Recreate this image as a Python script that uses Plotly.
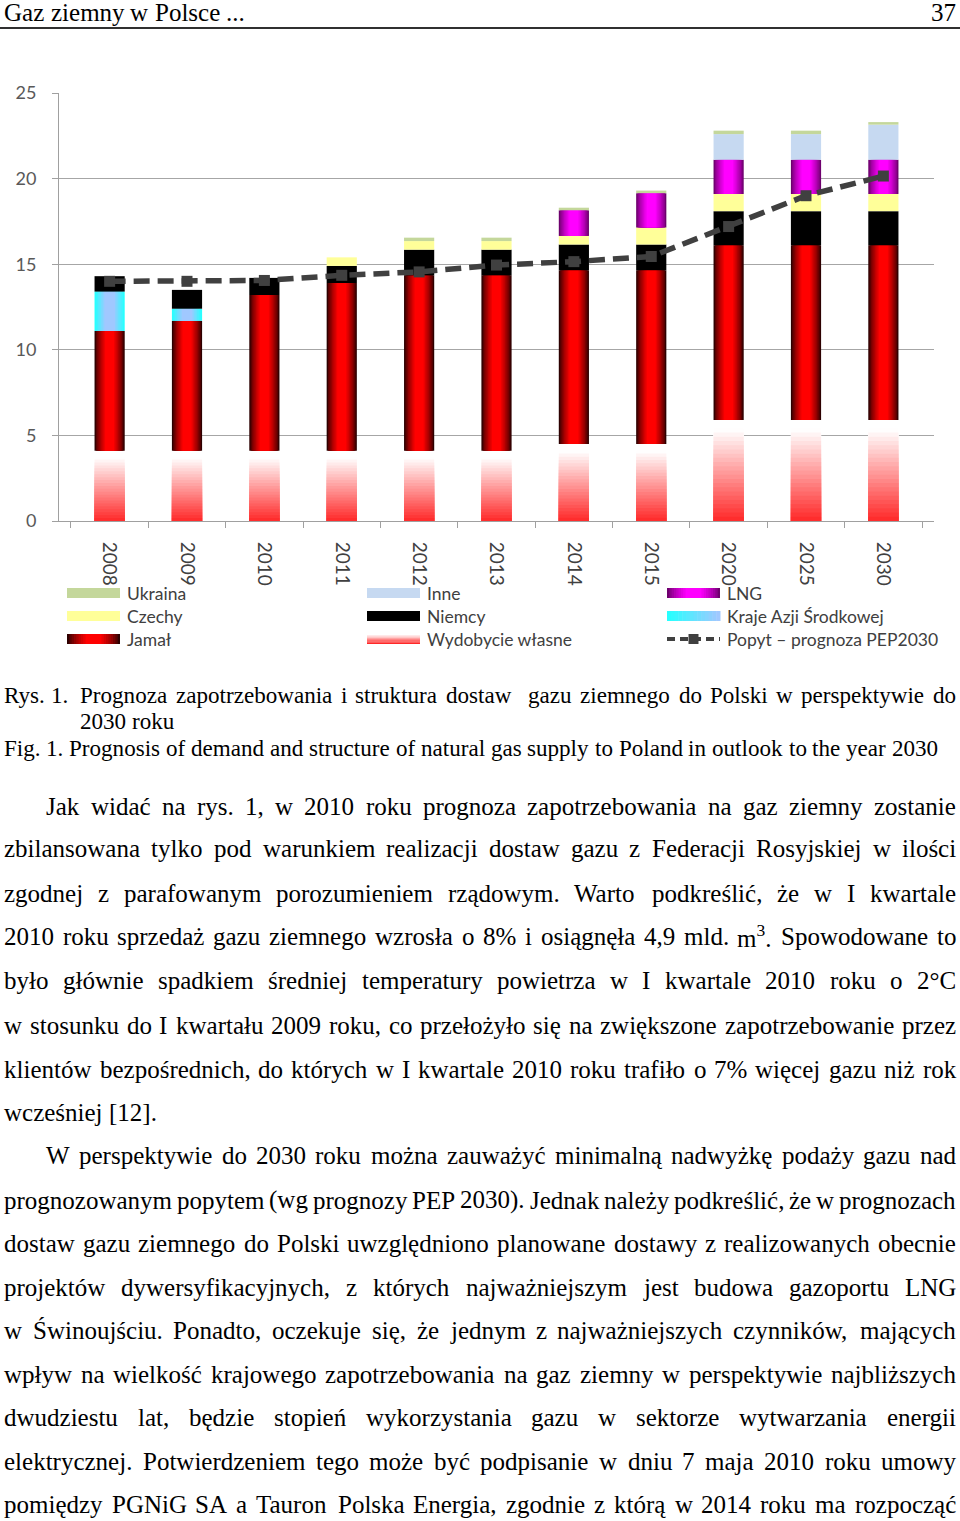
import re
import plotly.graph_objects as go

# ---------------- data ----------------
years = ["2008", "2009", "2010", "2011", "2012", "2013", "2014", "2015", "2020", "2025", "2030"]
wydobycie = [4.1, 4.1, 4.1, 4.1, 4.1, 4.1, 4.5, 4.5, 5.9, 5.9, 5.9]
jamal = [7.0, 7.6, 9.1, 9.8, 10.25, 10.25, 10.15, 10.15, 10.2, 10.2, 10.2]
kraje_azji = [2.3, 0.7, 0, 0, 0, 0, 0, 0, 0, 0, 0]
niemcy = [0.9, 1.1, 1.0, 1.0, 1.5, 1.5, 1.5, 1.5, 2.0, 2.0, 2.0]
czechy = [0, 0, 0, 0.5, 0.5, 0.5, 0.5, 1.0, 1.0, 1.0, 1.0]
lng = [0, 0, 0, 0, 0, 0, 1.5, 2.0, 2.0, 2.0, 2.0]
inne = [0, 0, 0, 0, 0, 0, 0, 0, 1.5, 1.5, 2.05]
ukraina = [0, 0, 0, 0, 0.2, 0.2, 0.15, 0.15, 0.2, 0.2, 0.15]
popyt = [14.0, 14.0, 14.05, 14.35, 14.55, 14.95, 15.15, 15.45, 17.2, 19.0, 20.15]
y_ticks = [0, 5, 10, 15, 20, 25]

legend_labels = [
    ["Ukraina", "Czechy", "Jamał"],
    ["Inne", "Niemcy", "Wydobycie własne"],
    ["LNG", "Kraje Azji Środkowej", "Popyt – prognoza PEP2030"],
]

header_left = "Gaz ziemny w Polsce ..."
header_right = "37"
caption_lines = [
    ("Rys. 1.", "Prognoza zapotrzebowania i struktura dostaw  gazu ziemnego do Polski w perspektywie do"),
    ("", "2030 roku"),
    ("Fig. 1. Prognosis of demand and structure of natural gas supply to Poland in outlook to the year 2030", ""),
]
body_lines = [
    ("Jak widać na rys. 1, w 2010 roku prognoza zapotrzebowania na gaz ziemny zostanie", 46, 806, True),
    ("zbilansowana tylko pod warunkiem realizacji dostaw gazu z Federacji Rosyjskiej w ilości", 4, 849, True),
    ("zgodnej z parafowanym porozumieniem rządowym. Warto podkreślić, że w I kwartale", 4, 893, True),
    ("2010 roku sprzedaż gazu ziemnego wzrosła o 8% i osiągnęła 4,9 mld. m<sup>3</sup>. Spowodowane to", 4, 936, True),
    ("było głównie spadkiem średniej temperatury powietrza w I kwartale 2010 roku o 2°C", 4, 980, True),
    ("w stosunku do I kwartału 2009 roku, co przełożyło się na zwiększone zapotrzebowanie przez", 4, 1025, True),
    ("klientów bezpośrednich, do których w I kwartale 2010 roku trafiło o 7% więcej gazu niż rok", 4, 1069, True),
    ("wcześniej [12].", 4, 1112, False),
    ("W perspektywie do 2030 roku można zauważyć minimalną nadwyżkę podaży gazu nad", 46, 1156, True),
    ("prognozowanym popytem (wg prognozy PEP 2030). Jednak należy podkreślić, że w prognozach", 4, 1200, True),
    ("dostaw gazu ziemnego do Polski uwzględniono planowane dostawy z realizowanych obecnie", 4, 1243, True),
    ("projektów dywersyfikacyjnych, z których najważniejszym jest budowa gazoportu LNG", 4, 1287, True),
    ("w Świnoujściu. Ponadto, oczekuje się, że jednym z najważniejszych czynników, mających", 4, 1330, True),
    ("wpływ na wielkość krajowego zapotrzebowania na gaz ziemny w perspektywie najbliższych", 4, 1374, True),
    ("dwudziestu lat, będzie stopień wykorzystania gazu w sektorze wytwarzania energii", 4, 1417, True),
    ("elektrycznej. Potwierdzeniem tego może być podpisanie w dniu 7 maja 2010 roku umowy", 4, 1461, True),
    ("pomiędzy PGNiG SA a Tauron Polska Energia, zgodnie z którą w 2014 roku ma rozpocząć", 4, 1504, True),
]

# ---------------- layout geometry ----------------
FIG_W, FIG_H = 960, 1521
ML, MR, MT, MB = 59, 26, 93, 1000
PW = FIG_W - ML - MR
PH = FIG_H - MT - MB
BW = 0.39
CHART_FONT = "Lato"
SERIF = "Liberation Serif"


def xp(px):
    return (px - ML) / PW


def yp(py):
    return (FIG_H - MB - py) / PH


def mix(c1, c2, t):
    t = max(0.0, min(1.0, t))
    return "rgb(%d,%d,%d)" % tuple(round(a + (b - a) * t) for a, b in zip(c1, c2))


def add_series(*series):
    out = [0.0] * len(years)
    for s in series:
        out = [a + b for a, b in zip(out, s)]
    return out


fig = go.Figure()


def add_bar(vals, base, color, width):
    fig.add_trace(go.Bar(
        x=years, y=vals, base=base, width=width,
        marker=dict(color=color, line=dict(width=0)),
        hoverinfo="skip", showlegend=False))


def add_hgrad(vals, base, edge, center, K=9, min_f=0.3, gamma=0.75):
    for j in range(K):
        f = 1 - (1 - min_f) * j / (K - 1)
        t = (j / (K - 1)) ** gamma
        add_bar(vals, base, mix(edge, center, t), BW * f)


RED_B = (255, 40, 40)
WHITE = (255, 255, 255)
JAM_EDGE, JAM_C = (45, 0, 0), (255, 0, 0)
AZ_EDGE, AZ_C = (40, 255, 255), (160, 200, 255)
LNG_EDGE, LNG_C = (110, 0, 110), (255, 0, 255)

# own production: vertical fade (red bottom -> white top); slices drawn top-down so they overlap
NS = 24
for i in reversed(range(NS)):
    t = ((i + 0.5) / NS) / 0.9
    add_bar([v * (i + 1) / NS for v in wydobycie], [0] * len(years),
            mix(RED_B, WHITE, t), BW)

b_jamal = add_series(wydobycie)
add_hgrad(jamal, b_jamal, JAM_EDGE, JAM_C)
b_azji = add_series(wydobycie, jamal)
add_hgrad(kraje_azji, b_azji, AZ_EDGE, AZ_C, K=7, min_f=0.35, gamma=1.0)
b_niemcy = add_series(wydobycie, jamal, kraje_azji)
add_bar(niemcy, b_niemcy, "#000000", BW)
b_czechy = add_series(wydobycie, jamal, kraje_azji, niemcy)
add_bar(czechy, b_czechy, "#ffff99", BW)
b_lng = add_series(wydobycie, jamal, kraje_azji, niemcy, czechy)
add_hgrad(lng, b_lng, LNG_EDGE, LNG_C)
b_inne = add_series(wydobycie, jamal, kraje_azji, niemcy, czechy, lng)
add_bar(inne, b_inne, "#c6d9f1", BW)
b_ukr = add_series(wydobycie, jamal, kraje_azji, niemcy, czechy, lng, inne)
add_bar(ukraina, b_ukr, "#c4d79b", BW)

fig.add_trace(go.Scatter(
    x=years, y=popyt, mode="lines+markers",
    line=dict(color="#404040", width=5.5, dash="16px,8px"),
    marker=dict(symbol="square", size=11, color="#404040"),
    hoverinfo="skip", showlegend=False))

shapes = []
annotations = []


def rect(x0, x1, y0, y1, color):
    shapes.append(dict(type="rect", xref="paper", yref="paper",
                       x0=xp(x0), x1=xp(x1), y0=yp(y1), y1=yp(y0),
                       fillcolor=color, line=dict(width=0), layer="above"))


# ---------------- custom legend ----------------
LEG_X = [67, 367, 667]
LEG_Y = [593, 616, 639]
SW_W, SW_H = 53, 10
for ci, col in enumerate(legend_labels):
    for ri, lab in enumerate(col):
        x0 = LEG_X[ci]
        x1 = x0 + SW_W
        cy = LEG_Y[ri]
        y0, y1 = cy - SW_H / 2, cy + SW_H / 2
        if lab == "Ukraina":
            rect(x0, x1, y0, y1, "#c4d79b")
        elif lab == "Czechy":
            rect(x0, x1, y0, y1, "#ffff99")
        elif lab == "Inne":
            rect(x0, x1, y0, y1, "#c6d9f1")
        elif lab == "Niemcy":
            rect(x0, x1, y0, y1, "#000000")
        elif lab in ("Jamał", "LNG"):
            edge, cen = (JAM_EDGE, JAM_C) if lab == "Jamał" else (LNG_EDGE, LNG_C)
            K = 9
            cx = (x0 + x1) / 2
            for j in range(K):
                f = 1 - 0.7 * j / (K - 1)
                rect(cx - SW_W / 2 * f, cx + SW_W / 2 * f, y0, y1,
                     mix(edge, cen, (j / (K - 1)) ** 0.75))
        elif lab.startswith("Kraje"):
            N = 14
            for k in range(N):
                rect(x0 + SW_W * k / N, x0 + SW_W * (k + 1) / N + 0.5, y0, y1,
                     mix(AZ_EDGE, AZ_C, k / (N - 1)))
        elif lab.startswith("Wydobycie"):
            N = 8
            for k in range(N):
                rect(x0, x1, y1 - SW_H * (k + 1) / N - 0.3, y1 - SW_H * k / N,
                     mix(RED_B, WHITE, k / (N - 1)))
        else:  # demand line
            shapes.append(dict(type="line", xref="paper", yref="paper",
                               x0=xp(x0), x1=xp(x1), y0=yp(cy), y1=yp(cy),
                               line=dict(color="#404040", width=4, dash="8px,5px"),
                               layer="above"))
            sx = (x0 + x1) / 2 - 5
            rect(sx, sx + 10, cy - 5, cy + 5, "#404040")
        annotations.append(dict(
            x=xp(x0 + SW_W + 7), y=yp(cy), xref="paper", yref="paper",
            text=lab, showarrow=False, xanchor="left", yanchor="middle",
            borderpad=0, borderwidth=0,
            font=dict(family=CHART_FONT, size=17.5, color="#404040")))

# ---------------- page text ----------------
TW = {' ': 250, '.': 250, ',': 250, ':': 278, ';': 278, '(': 333, ')': 333,
      '[': 333, ']': 333, '%': 833, '°': 400, '-': 333, '–': 500}
TW.update(dict(a=444, b=500, c=444, d=500, e=444, f=333, g=500, h=500, i=278, j=278,
               k=500, l=278, m=778, n=500, o=500, p=500, q=500, r=333, s=389, t=278,
               u=500, v=500, w=722, x=500, y=500, z=444))
TW.update(dict(A=722, B=667, C=667, D=722, E=611, F=556, G=722, H=722, I=333, J=389,
               K=722, L=611, M=889, N=722, O=722, P=556, Q=722, R=667, S=556, T=611,
               U=722, V=722, W=944, X=722, Y=722, Z=611))
TW.update({'ą': 444, 'ć': 444, 'ę': 444, 'ł': 278, 'ń': 500, 'ó': 500, 'ś': 389,
           'ź': 444, 'ż': 444, 'Ś': 556, 'Ł': 611, 'Ż': 611})
for dgt in "0123456789":
    TW[dgt] = 500


def units(w):
    m = re.match(r"(.*)<sup>(.*)</sup>(.*)", w)
    if m:
        return units(m.group(1)) + 0.7 * units(m.group(2)) + units(m.group(3))
    return sum(TW.get(ch, 500) for ch in w)


def word_ann(word, px, py, fs, anchor="left"):
    annotations.append(dict(
        x=xp(px), y=yp(py), xref="paper", yref="paper", text=word,
        showarrow=False, xanchor=anchor, yanchor="middle",
        borderpad=0, borderwidth=0,
        font=dict(family=SERIF, size=fs, color="#000000")))


def place_line(text, x0, x1, py, fs, justify):
    words = text.split(" ")
    ws = [units(w) * fs / 1000 for w in words]
    n = len(words)
    if justify and n > 1:
        gap = (x1 - x0 - sum(ws)) / (n - 1)
    else:
        gap = 250 * fs / 1000
    gap = max(gap, 0.12 * fs)
    x = x0
    for w, wd in zip(words, ws):
        if w:
            word_ann(w, x, py, fs)
        x += wd + gap


# header
HDR_FS = 25
place_line(header_left, 4, 956, 13, HDR_FS, False)
word_ann(header_right, 956, 13, HDR_FS, anchor="right")
shapes.append(dict(type="line", xref="paper", yref="paper",
                   x0=xp(0), x1=xp(960), y0=yp(28), y1=yp(28),
                   line=dict(color="#303030", width=2)))

# caption
fig_line = caption_lines[2][0]
CAP_FS = 934 / (units(fig_line) / 1000)
place_line(caption_lines[0][0], 4, 956, 695, CAP_FS, False)
place_line(caption_lines[0][1], 80, 956, 695, CAP_FS, True)
place_line(caption_lines[1][1], 80, 956, 721, CAP_FS, False)
place_line(fig_line, 4, 956, 748, CAP_FS, False)

# body
BODY_FS = 25
for text, x0, py, just in body_lines:
    place_line(text, x0, 956, py, BODY_FS, just)

fig.update_layout(
    width=FIG_W, height=FIG_H,
    margin=dict(l=ML, r=MR, t=MT, b=MB, pad=0),
    barmode="overlay",
    plot_bgcolor="white", paper_bgcolor="white",
    shapes=shapes, annotations=annotations,
    showlegend=False,
    xaxis=dict(type="category", showline=True, linecolor="#a0a0a0", linewidth=1,
               ticks="outside", tickson="boundaries", ticklen=6, tickcolor="#a0a0a0",
               tickangle=90, ticklabelstandoff=16, showgrid=False,
               tickfont=dict(family=CHART_FONT, size=19, color="#404040")),
    yaxis=dict(range=[0, 25], tickvals=y_ticks, showgrid=True, gridcolor="#a6a6a6",
               gridwidth=1, showline=True, linecolor="#a0a0a0", linewidth=1,
               ticks="outside", ticklen=6, tickcolor="#a0a0a0", zeroline=False,
               ticklabelstandoff=12,
               tickfont=dict(family=CHART_FONT, size=18, color="#595959")),
)

fig.write_html("out.html", config={"displayModeBar": False},
               post_script="document.body.style.margin='0px';")
